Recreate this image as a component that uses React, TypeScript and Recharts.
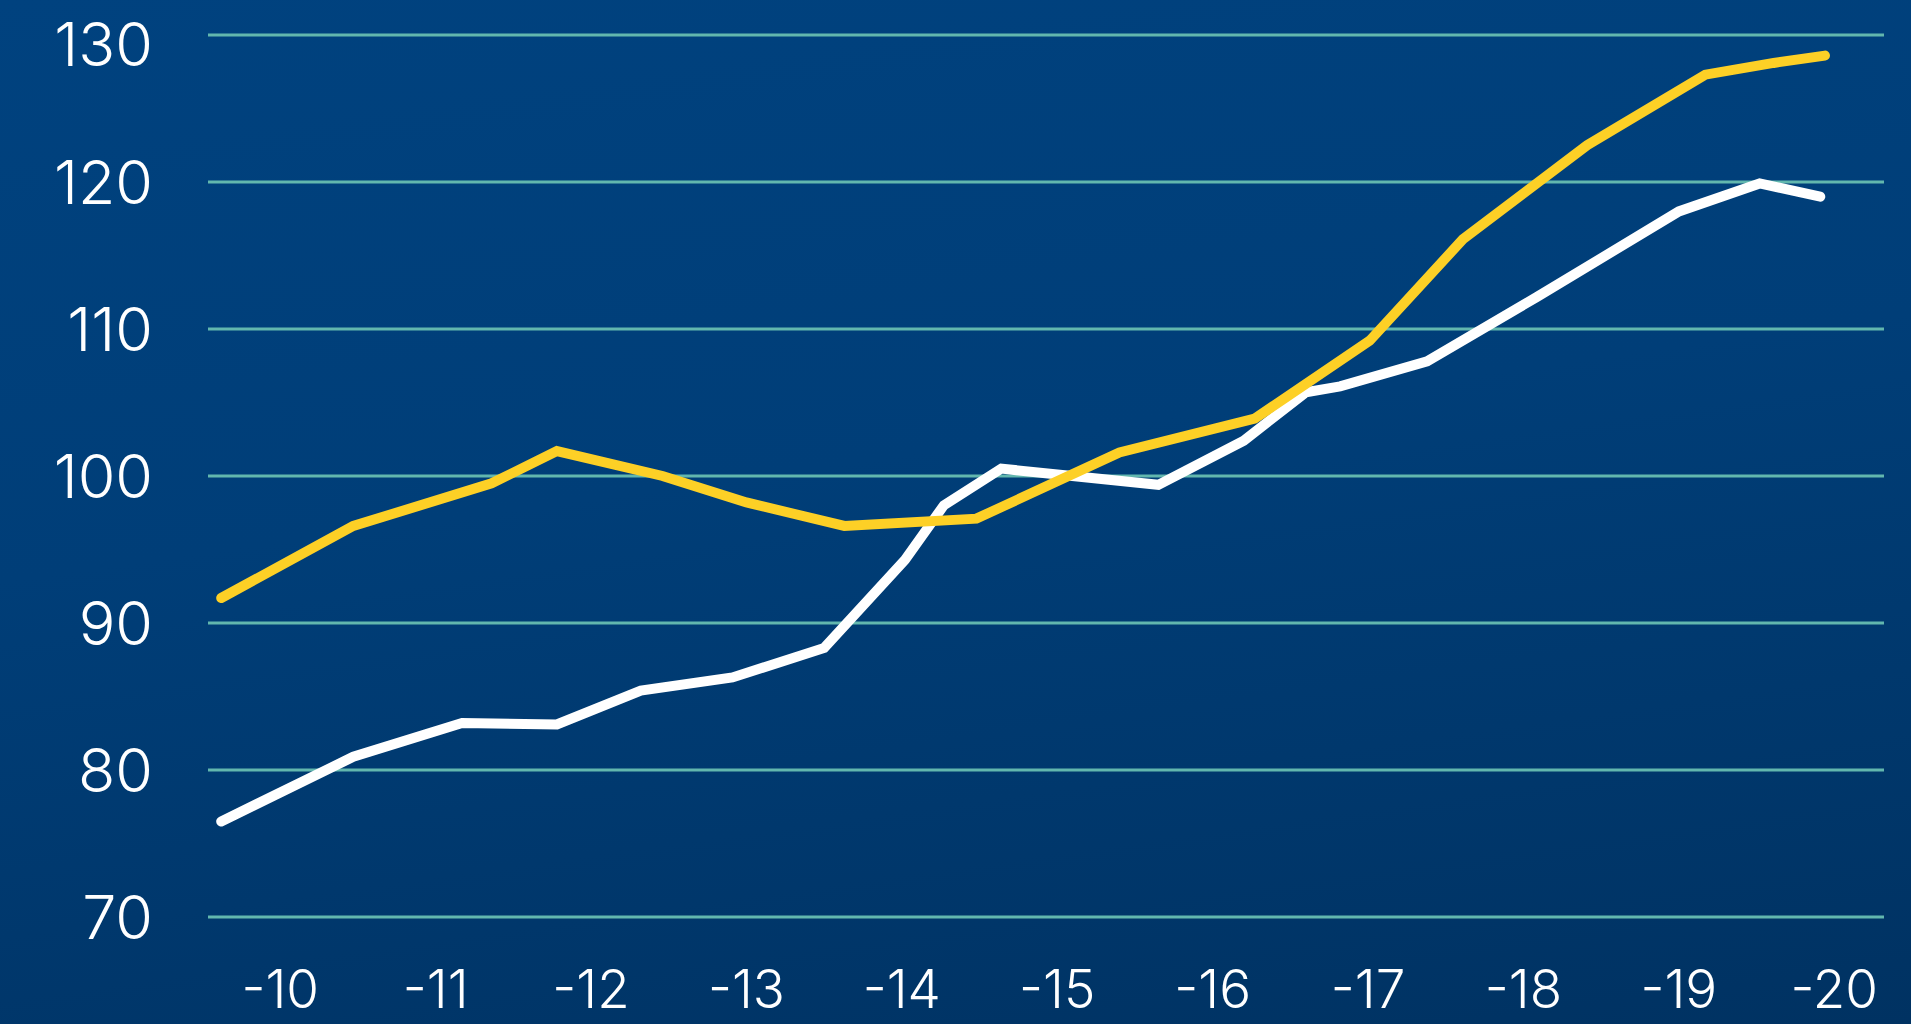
import { LineChart, Line, XAxis, YAxis, CartesianGrid } from 'recharts';

// x position in "year" units (tick 10 = label "-10")
const whiteX = [9.62, 10.47, 11.17, 11.78, 12.32, 12.91, 13.5, 14.02, 14.27, 14.64, 15.65, 16.2, 16.6, 16.82, 17.38, 18.09, 19.0, 19.52, 19.91];
const whiteY = [76.5, 80.9, 83.2, 83.1, 85.4, 86.3, 88.3, 94.3, 98.0, 100.5, 99.4, 102.4, 105.7, 106.1, 107.8, 112.2, 118.0, 119.9, 119.0];

const yellowX = [9.62, 10.47, 11.36, 11.78, 12.46, 13.0, 13.63, 14.48, 15.4, 16.27, 17.01, 17.61, 18.41, 19.17, 19.61, 19.94];
const yellowY = [91.7, 96.6, 99.5, 101.7, 100.0, 98.2, 96.6, 97.1, 101.6, 103.9, 109.2, 116.1, 122.5, 127.3, 128.1, 128.6];

const xTicks = [10, 11, 12, 13, 14, 15, 16, 17, 18, 19, 20];
const xTickLabels = ['-10', '-11', '-12', '-13', '-14', '-15', '-16', '-17', '-18', '-19', '-20'];
const yTicks = [70, 80, 90, 100, 110, 120, 130];

const whiteData = whiteX.map((x, i) => ({ x, v: whiteY[i] }));
const yellowData = yellowX.map((x, i) => ({ x, v: yellowY[i] }));

const font = 'Inter, "Open Sans", sans-serif';
const yTickStyle = { fontSize: 61, fill: '#ffffff', fontFamily: font, fontWeight: 300 };
const xTickStyle = { fontSize: 53, fill: '#ffffff', fontFamily: font, fontWeight: 300 };

// top label sits a little below its grid line in the original
function YTick(props: any) {
    const { x, y, payload } = props;
    const shift = payload.value === 130 ? 9 : 0;
    return (
        <text x={x} y={y + shift} dy="0.355em" textAnchor="end" {...yTickStyle}>
            {payload.value}
        </text>
    );
}

export default function App() {
    return (
        <div
            style={{
                position: 'absolute',
                top: 0,
                left: 0,
                width: 1911,
                height: 1024,
                background: 'linear-gradient(172deg, #00427f 0%, #003e78 45%, #003262 100%)',
                overflow: 'hidden',
            }}
        >
            <LineChart width={1911} height={1024} margin={{ top: 35, right: 27, left: 0, bottom: 0 }}>
                <CartesianGrid vertical={false} stroke="#62b7ae" strokeWidth={3} />
                <XAxis
                    type="number"
                    dataKey="x"
                    domain={[9.535, 20.32]}
                    ticks={xTicks}
                    tickFormatter={(v: number) => xTickLabels[xTicks.indexOf(v)]}
                    axisLine={false}
                    tickLine={false}
                    tickSize={0}
                    tickMargin={53}
                    height={107}
                    tick={xTickStyle}
                    allowDataOverflow
                />
                <YAxis
                    type="number"
                    domain={[70, 130]}
                    ticks={yTicks}
                    axisLine={false}
                    tickLine={false}
                    tickSize={0}
                    tickMargin={55}
                    width={208}
                    tick={<YTick />}
                />
                <Line
                    data={whiteData}
                    dataKey="v"
                    type="linear"
                    stroke="#ffffff"
                    strokeWidth={10}
                    strokeLinecap="round"
                    strokeLinejoin="miter"
                    dot={false}
                    isAnimationActive={false}
                />
                <Line
                    data={yellowData}
                    dataKey="v"
                    type="linear"
                    stroke="#fdd026"
                    strokeWidth={10}
                    strokeLinecap="round"
                    strokeLinejoin="miter"
                    dot={false}
                    isAnimationActive={false}
                />
            </LineChart>
        </div>
    );
}
